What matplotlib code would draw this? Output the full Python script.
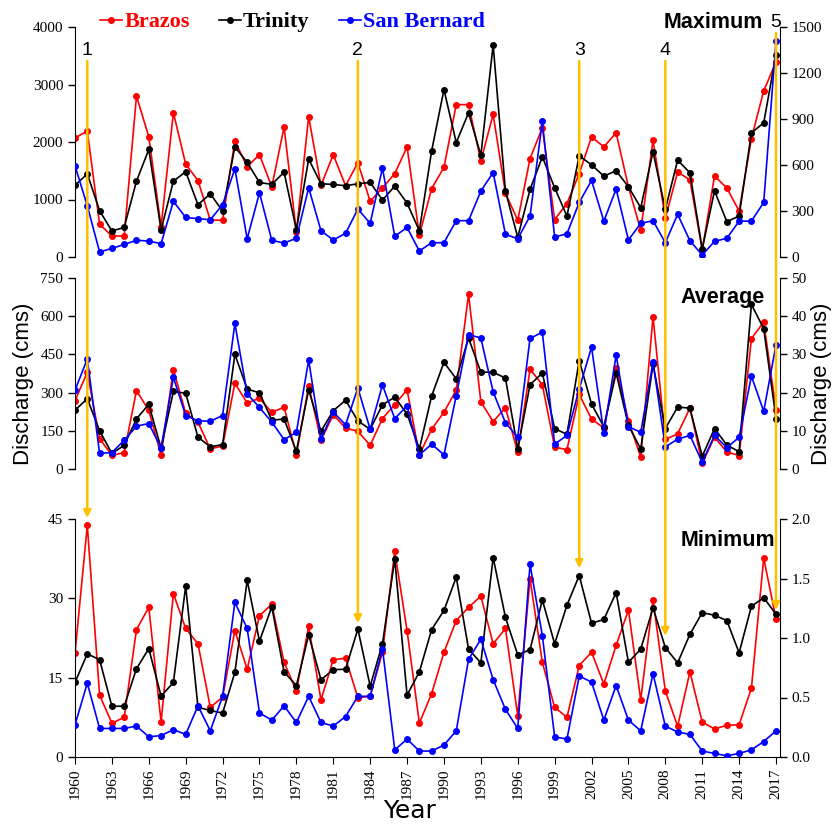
import numpy as np
import matplotlib
matplotlib.use('Agg')
import matplotlib.pyplot as plt
from matplotlib.patches import ConnectionPatch
from matplotlib.ticker import FormatStrFormatter
from matplotlib.lines import Line2D

# caudal anual (cms) de los tres rios, 1960-2017
years = list(range(1960, 2018))

brazos_max = [2070, 2190, 570, 365, 365, 2800, 2090, 530, 2510, 1615, 1330, 640, 640, 2020, 1570, 1780,
              1220, 2260, 430, 2440, 1245, 1780, 1240, 1640, 970, 1200, 1450, 1915, 380, 1190, 1560, 2650,
              2650, 1670, 2480, 1110, 640, 1710, 2250, 650, 930, 1450, 2090, 1915, 2160, 1220, 470, 2030,
              670, 1480, 1340, 120, 1410, 1200, 800, 2060, 2890, 3390]
trinity_max = [1245, 1447, 805, 452, 515, 1320, 1870, 469, 1320, 1482, 909, 1100, 799, 1916, 1644, 1297,
               1262, 1476, 469, 1702, 1274, 1262, 1239, 1274, 1297, 990, 1233, 938, 457, 1847, 2912, 1990,
               2507, 1771, 3687, 1146, 342, 1175, 1742, 1204, 712, 1760, 1603, 1407, 1499, 1221, 857, 1829,
               828, 1684, 1465, 139, 1152, 614, 712, 2159, 2333, 3520]
sanb_max = [595, 334, 33, 56, 82, 109, 104, 87, 363, 258, 250, 243, 341, 575, 119, 419, 109, 91, 122, 452,
            171, 111, 154, 313, 219, 580, 135, 193, 39, 93, 93, 237, 237, 430, 551, 148, 119, 267, 885, 130,
            152, 356, 499, 234, 443, 111, 219, 237, 93, 278, 106, 13, 102, 122, 234, 234, 356, 1407]

brazos_avg = [268, 380, 119, 54, 64, 308, 230, 54, 390, 219, 184, 79, 90, 337, 259, 278, 222, 243, 56, 327,
              113, 213, 161, 148, 93, 198, 253, 311, 56, 156, 223, 310, 686, 264, 186, 241, 66, 392, 331, 86,
              76, 293, 196, 161, 397, 190, 47, 598, 116, 138, 239, 22, 125, 67, 53, 512, 577, 232]
trinity_avg = [231, 276, 150, 61, 93, 197, 254, 82, 305, 297, 125, 87, 96, 450, 314, 299, 192, 196, 70, 311,
               148, 229, 270, 189, 156, 252, 282, 216, 79, 287, 419, 354, 514, 380, 380, 357, 79, 331, 377,
               159, 136, 426, 255, 166, 377, 171, 79, 411, 159, 243, 239, 50, 159, 94, 68, 646, 551, 198]
sanb_avg = [20.6, 28.8, 4.1, 4.3, 7.5, 11.2, 11.9, 5.5, 24.0, 14.0, 12.6, 12.5, 14.0, 38.1, 19.7, 16.1, 12.3,
            7.7, 9.6, 28.5, 7.9, 14.9, 11.6, 21.2, 10.4, 22.0, 13.2, 16.5, 3.7, 6.5, 3.7, 19.2, 35.2, 34.3,
            20.2, 12.1, 8.3, 34.2, 35.8, 6.5, 8.8, 21.0, 31.9, 9.4, 29.8, 11.1, 9.6, 27.9, 5.8, 7.8, 8.8, 1.8,
            8.8, 5.6, 8.3, 24.3, 15.1, 32.5]

brazos_min = [19.6, 43.8, 11.7, 6.4, 7.5, 24.1, 28.3, 6.6, 30.9, 24.3, 21.4, 9.4, 11.3, 23.9, 16.6, 26.7,
              28.9, 17.9, 12.5, 24.7, 10.8, 18.4, 18.7, 11.2, 11.5, 19.8, 38.9, 23.9, 6.4, 12.0, 19.8, 25.8,
              28.3, 30.4, 21.4, 24.3, 7.8, 33.7, 17.9, 9.4, 7.5, 17.3, 19.8, 13.8, 21.1, 27.8, 10.8, 29.7,
              12.5, 5.8, 16.1, 6.6, 5.3, 6.0, 6.1, 13.0, 37.6, 26.1]
trinity_min = [14.1, 19.5, 18.4, 9.6, 9.6, 16.7, 20.5, 11.5, 14.1, 32.3, 9.4, 8.8, 8.3, 16.0, 33.4, 21.9,
               28.4, 16.1, 13.5, 23.1, 14.6, 16.5, 16.6, 24.2, 13.4, 21.4, 37.4, 11.7, 16.1, 24.1, 27.7, 34.0,
               20.4, 17.8, 37.7, 26.4, 19.3, 20.3, 29.7, 21.4, 28.7, 34.3, 25.3, 26.0, 31.1, 17.9, 20.4, 28.2,
               20.7, 17.8, 23.2, 27.3, 26.8, 25.8, 19.7, 28.5, 30.1, 27.0]
sanb_min = [0.27, 0.62, 0.24, 0.24, 0.24, 0.26, 0.17, 0.18, 0.23, 0.19, 0.43, 0.22, 0.51, 1.30, 1.08, 0.37,
            0.31, 0.43, 0.29, 0.51, 0.29, 0.26, 0.34, 0.51, 0.51, 0.91, 0.06, 0.15, 0.05, 0.05, 0.10, 0.22,
            0.82, 0.99, 0.65, 0.40, 0.24, 1.62, 1.02, 0.17, 0.15, 0.68, 0.63, 0.31, 0.60, 0.31, 0.22, 0.70,
            0.26, 0.21, 0.19, 0.05, 0.03, 0.01, 0.03, 0.06, 0.13, 0.22]

# eventos marcados con flechas
event_years = [1961, 1983, 2001, 2008, 2017]
event_labels = ['1', '2', '3', '4', '5']

serif = 'Liberation Serif'
sans = 'Liberation Sans'
ORO = '#FFC000'

fig = plt.figure(figsize=(8.4, 8.25), dpi=100)
W, H = 840, 825


def caja(top, bottom):
    # posicion en pixeles -> fraccion de figura
    x0 = 75 / W
    ancho = (779.7 - 75) / W
    return [x0, 1 - bottom / H, ancho, (bottom - top) / H]


paneles = [
    (caja(27, 257), brazos_max, trinity_max, sanb_max, (0, 4000), np.arange(0, 4001, 1000), (0, 1500), np.arange(0, 1501, 300)),
    (caja(278, 469), brazos_avg, trinity_avg, sanb_avg, (0, 750), np.arange(0, 751, 150), (0, 50), np.arange(0, 51, 10)),
    (caja(519, 757), brazos_min, trinity_min, sanb_min, (0, 45), np.arange(0, 46, 15), (0, 2.0), np.arange(0, 2.01, 0.5)),
]

ejes = []
for i, (pos, br, tr, sb, ylim, yt, ylim2, yt2) in enumerate(paneles):
    ax = fig.add_axes(pos)
    ax2 = ax.twinx()
    kw = dict(marker='o', markersize=4, linewidth=1.2)
    ax.plot(years, br, color='red', **kw)
    ax.plot(years, tr, color='black', **kw)
    ax2.plot(years, sb, color='blue', **kw)

    ax.set_xlim(1960, 2017.3)
    ax.set_ylim(*ylim)
    ax.set_yticks(yt)
    ax2.set_ylim(*ylim2)
    ax2.set_yticks(yt2)
    for a in (ax, ax2):
        a.spines['top'].set_visible(False)
        a.tick_params(axis='y', direction='out', length=5, width=1, labelsize=11)
        for lab in a.get_yticklabels():
            lab.set_fontfamily(serif)
    ax.spines['right'].set_visible(False)
    ax2.spines['left'].set_visible(False)
    ax2.spines['bottom'].set_visible(False)
    if i < 2:
        ax.spines['bottom'].set_visible(False)
        ax.tick_params(axis='x', bottom=False, labelbottom=False)
    else:
        ax2.yaxis.set_major_formatter(FormatStrFormatter('%.1f'))
        ax.set_xticks(range(1960, 2018, 3))
        ax.tick_params(axis='x', direction='out', length=5, labelsize=11, labelrotation=90)
        for lab in ax.get_xticklabels():
            lab.set_fontfamily(serif)
    ejes.append((ax, ax2))

ax1 = ejes[0][0]
ax3 = ejes[2][0]

# titulos de cada panel
fig.text(763 / W, 1 - 22 / H, 'Maximum', ha='right', va='center', fontsize=15.5, fontweight='bold', family=sans)
fig.text(765 / W, 1 - 298 / H, 'Average', ha='right', va='center', fontsize=15.5, fontweight='bold', family=sans)
fig.text(775 / W, 1 - 541 / H, 'Minimum', ha='right', va='center', fontsize=15.5, fontweight='bold', family=sans)

# flechas amarillas
tops = [61, 61, 61, 61, 33]
tips = [45.2, 25.3, 35.7, 22.9, 27.8]
for yr, lab, top, tip in zip(event_years, event_labels, tops, tips):
    frac = (257 - top) / 230
    con = ConnectionPatch(xyA=(yr, frac), coordsA=ax1.get_xaxis_transform(),
                          xyB=(yr, tip), coordsB=ax3.transData,
                          arrowstyle='-|>', color=ORO, linewidth=1.8, mutation_scale=11)
    fig.add_artist(con)
    ax1.text(yr, frac + 0.01, lab, transform=ax1.get_xaxis_transform(), ha='center', va='bottom',
             fontsize=14, family=sans, clip_on=False)

# leyenda
handles = [Line2D([], [], color=c, marker='o', markersize=4, linewidth=1.2) for c in ['red', 'black', 'blue']]
fig.legend(handles, ['Brazos', 'Trinity', 'San Bernard'], loc='center left',
           bbox_to_anchor=(100 / W, 1 - 22 / H), ncol=3, frameon=False,
           prop={'family': serif, 'weight': 'bold', 'size': 16},
           labelcolor=['red', 'black', 'blue'], handlelength=1.0, handletextpad=0.1,
           columnspacing=1.3, borderpad=0, borderaxespad=0)

# etiquetas de ejes
fig.text(24 / W, 1 - 384 / H, 'Discharge (cms)', rotation=90, ha='center', va='center', fontsize=16, family=sans)
fig.text(822 / W, 1 - 384 / H, 'Discharge (cms)', rotation=90, ha='center', va='center', fontsize=16, family=sans)
fig.text(410 / W, 1 - 811 / H, 'Year', ha='center', va='center', fontsize=18,
         family=['Liberation Sans Narrow', 'DejaVu Sans'])

plt.savefig('out.png', dpi=100)
